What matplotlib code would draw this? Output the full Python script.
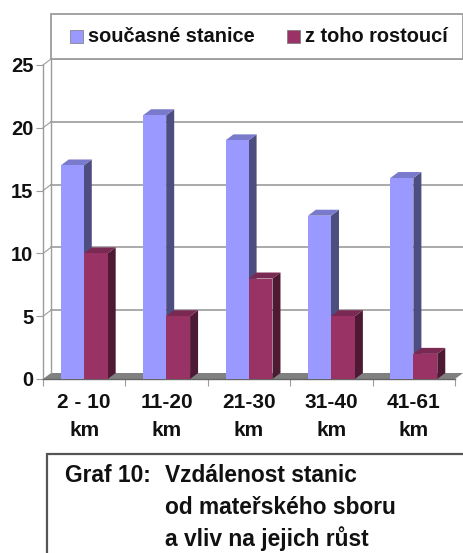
import matplotlib
matplotlib.use("Agg")
import matplotlib.pyplot as plt
from matplotlib.patches import Polygon, Rectangle

# data
categories = ["2 - 10\nkm", "11-20\nkm", "21-30\nkm", "31-40\nkm", "41-61\nkm"]
stanice = [17, 21, 19, 13, 16]
rostouci = [10, 5, 8, 5, 2]
y_ticks = [0, 5, 10, 15, 20, 25]
legend_labels = ["současné stanice", "z toho rostoucí"]
caption_head = "Graf 10:"
caption_lines = ["Vzdálenost stanic", "od mateřského sboru", "a vliv na jejich růst"]

W, H = 464, 553
plt.rcParams['font.family'] = ['Liberation Sans', 'DejaVu Sans']

fig = plt.figure(figsize=(W / 100, H / 100), dpi=100)
# front plane of the fake 3d box
ax = fig.add_axes([43 / W, 1 - 379 / H, 412 / W, 314 / H])
ax.set_xlim(0, 5)
ax.set_ylim(0, 25)
ax.patch.set_alpha(0)

dx = 8 / 82.4   # depth in x units
dy = 6 / 12.56  # depth in y units
grey = '#9c9c9c'
ink = '#111111'


def bar3d(ax, x0, w, h, front, side, top):
    ax.add_patch(Polygon([(x0 + w, 0), (x0 + w + dx, dy), (x0 + w + dx, h + dy), (x0 + w, h)],
                         fc=side, ec='none', zorder=3, clip_on=False))
    ax.add_patch(Polygon([(x0, h), (x0 + dx, h + dy), (x0 + w + dx, h + dy), (x0 + w, h)],
                         fc=top, ec='none', zorder=3, clip_on=False))
    ax.add_patch(Rectangle((x0, 0), w, h, fc=front, ec='none', zorder=3, clip_on=False))


# floor and back wall
ax.add_patch(Polygon([(0, 0), (dx, dy), (5 + dx, dy), (5, 0)], fc='#808080', ec='none', zorder=1, clip_on=False))
ax.plot([dx, dx], [dy, 25 + dy], color=grey, lw=1, zorder=1, clip_on=False)
for t in y_ticks[1:]:
    ax.plot([0, dx], [t, t + dy], color=grey, lw=0.8, zorder=1, clip_on=False)
    ax.plot([dx, 5 + dx], [t + dy, t + dy], color=grey, lw=1.2, zorder=1, clip_on=False)

# bars
for i in range(len(categories)):
    bar3d(ax, i + 0.215, 0.28, stanice[i], '#9999FF', '#4D4D80', '#7A7ACC')
    bar3d(ax, i + 0.495, 0.29, rostouci[i], '#993366', '#4D1933', '#7A2952')

for s in ['top', 'right']:
    ax.spines[s].set_visible(False)
ax.spines['left'].set_color(grey)
ax.spines['bottom'].set_color('#666666')
ax.spines['left'].set_linewidth(1)
ax.spines['bottom'].set_linewidth(1)

ax.set_yticks(y_ticks)
ax.set_yticklabels([str(t) for t in y_ticks], fontsize=14.5, fontweight='bold', color=ink)
ax.tick_params(axis='y', length=5, color=grey, pad=2)
ax.set_xticks(range(6))
ax.set_xticklabels([])
ax.tick_params(axis='x', length=5, color=grey)
for i, c in enumerate(categories):
    first, second = c.split("\n")
    fig.text((43 + 82.4 * (i + 0.5)) / W, 1 - 403 / H, first, ha='center', va='center',
             fontsize=15, fontweight='bold', color=ink)
    fig.text((43 + 82.4 * (i + 0.5)) / W, 1 - 430 / H, second, ha='center', va='center',
             fontsize=15, fontweight='bold', color=ink)

# legend box
fig.add_artist(Rectangle((51 / W, 1 - 59 / H), 412 / W, 45 / H, fc='white', ec=grey, lw=1.3,
                         transform=fig.transFigure))
fig.add_artist(Rectangle((70 / W, 1 - 43 / H), 13 / W, 13 / H, fc='#9999FF', ec='#777777', lw=0.5,
                         transform=fig.transFigure))
fig.text(88 / W, 1 - 37 / H, legend_labels[0], fontsize=14.4, fontweight='bold', va='center', color=ink)
fig.add_artist(Rectangle((287 / W, 1 - 43 / H), 13 / W, 13 / H, fc='#993366', ec='#777777', lw=0.5,
                         transform=fig.transFigure))
fig.text(305 / W, 1 - 37 / H, legend_labels[1], fontsize=14.4, fontweight='bold', va='center', color=ink)

# caption box, runs off the right and bottom edge
fig.add_artist(Rectangle((47.5 / W, -10 / H), 440 / W, (553 - 454 + 10) / H, fc='white', ec='#555555', lw=1.6,
                         transform=fig.transFigure))
cap_font = ['Liberation Sans Narrow', 'Liberation Sans', 'DejaVu Sans']
fig.text(65 / W, 1 - 475 / H, caption_head, fontsize=16.4, fontweight='bold', va='center',
         family=cap_font, color=ink)
for k, line in enumerate(caption_lines):
    fig.text(165 / W, 1 - (475 + 32 * k) / H, line, fontsize=16.4, fontweight='bold', va='center',
             family=cap_font, color=ink)

fig.savefig("out.png", dpi=100)
